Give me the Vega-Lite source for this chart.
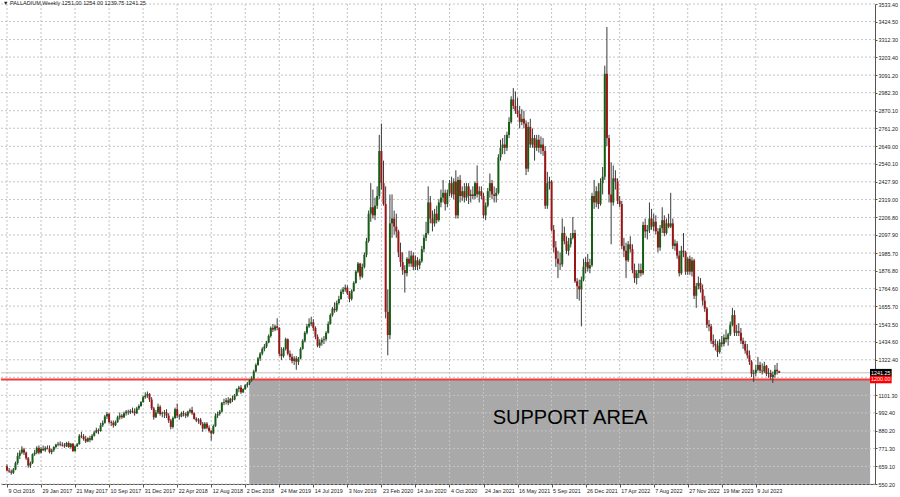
{
  "$schema": "https://vega.github.io/schema/vega-lite/v6.json",
  "width": 874,
  "height": 480,
  "autosize": "none",
  "padding": {"left": 1, "top": 4, "right": 25, "bottom": 13},
  "background": "white",
  "config": {
    "view": {"stroke": null},
    "font": "Liberation Sans",
    "axis": {"labelFont": "Liberation Sans", "labelFontSize": 5.4, "labelColor": "#222222", "domainColor": "#555555", "tickColor": "#555555", "labelOverlap": false, "labelFlush": false, "labelBound": false}
  },
  "title": {
    "text": "▼ PALLADIUM,Weekly  1251.00 1254.00 1239.75 1241.25",
    "anchor": "start",
    "frame": "group",
    "orient": "top",
    "offset": -4,
    "fontSize": 5.5,
    "fontWeight": "normal",
    "font": "Liberation Sans",
    "color": "#222222",
    "dx": 2
  },
  "datasets": {
    "ohlc": [
      {"d":"2016-10-09","o":660,"h":672,"l":628,"c":634},
      {"d":"2016-10-16","o":634,"h":650,"l":620,"c":628},
      {"d":"2016-10-23","o":628,"h":640,"l":608,"c":620},
      {"d":"2016-10-30","o":620,"h":650,"l":612,"c":640},
      {"d":"2016-11-06","o":640,"h":690,"l":636,"c":680},
      {"d":"2016-11-13","o":680,"h":745,"l":670,"c":725},
      {"d":"2016-11-20","o":725,"h":760,"l":705,"c":745},
      {"d":"2016-11-27","o":745,"h":785,"l":735,"c":765},
      {"d":"2016-12-04","o":765,"h":775,"l":730,"c":745},
      {"d":"2016-12-11","o":745,"h":752,"l":700,"c":710},
      {"d":"2016-12-18","o":710,"h":718,"l":652,"c":665},
      {"d":"2016-12-25","o":665,"h":690,"l":650,"c":680},
      {"d":"2017-01-01","o":680,"h":740,"l":675,"c":735},
      {"d":"2017-01-08","o":735,"h":762,"l":725,"c":745},
      {"d":"2017-01-15","o":745,"h":785,"l":735,"c":775},
      {"d":"2017-01-22","o":775,"h":790,"l":735,"c":745},
      {"d":"2017-01-29","o":745,"h":780,"l":740,"c":768},
      {"d":"2017-02-05","o":768,"h":790,"l":755,"c":760},
      {"d":"2017-02-12","o":760,"h":785,"l":750,"c":775},
      {"d":"2017-02-19","o":775,"h":790,"l":765,"c":770},
      {"d":"2017-02-26","o":770,"h":790,"l":740,"c":748},
      {"d":"2017-03-05","o":748,"h":770,"l":735,"c":760},
      {"d":"2017-03-12","o":760,"h":785,"l":750,"c":780},
      {"d":"2017-03-19","o":780,"h":800,"l":770,"c":795},
      {"d":"2017-03-26","o":795,"h":812,"l":785,"c":800},
      {"d":"2017-04-02","o":800,"h":815,"l":785,"c":795},
      {"d":"2017-04-09","o":795,"h":810,"l":782,"c":790},
      {"d":"2017-04-16","o":790,"h":805,"l":775,"c":785},
      {"d":"2017-04-23","o":785,"h":812,"l":780,"c":805},
      {"d":"2017-04-30","o":805,"h":815,"l":775,"c":780},
      {"d":"2017-05-07","o":780,"h":805,"l":770,"c":800},
      {"d":"2017-05-14","o":800,"h":805,"l":750,"c":755},
      {"d":"2017-05-21","o":755,"h":790,"l":750,"c":785},
      {"d":"2017-05-28","o":785,"h":805,"l":780,"c":798},
      {"d":"2017-06-04","o":798,"h":860,"l":795,"c":850},
      {"d":"2017-06-11","o":850,"h":875,"l":835,"c":845},
      {"d":"2017-06-18","o":845,"h":860,"l":820,"c":830},
      {"d":"2017-06-25","o":830,"h":850,"l":805,"c":815},
      {"d":"2017-07-02","o":815,"h":840,"l":810,"c":835},
      {"d":"2017-07-09","o":835,"h":850,"l":810,"c":825},
      {"d":"2017-07-16","o":825,"h":860,"l":820,"c":850},
      {"d":"2017-07-23","o":850,"h":880,"l":845,"c":870},
      {"d":"2017-07-30","o":870,"h":900,"l":865,"c":885},
      {"d":"2017-08-06","o":885,"h":895,"l":860,"c":880},
      {"d":"2017-08-13","o":880,"h":930,"l":875,"c":915},
      {"d":"2017-08-20","o":915,"h":945,"l":905,"c":930},
      {"d":"2017-08-27","o":930,"h":980,"l":925,"c":970},
      {"d":"2017-09-03","o":970,"h":998,"l":955,"c":985},
      {"d":"2017-09-10","o":985,"h":992,"l":925,"c":935},
      {"d":"2017-09-17","o":935,"h":945,"l":910,"c":930},
      {"d":"2017-09-24","o":930,"h":945,"l":900,"c":915},
      {"d":"2017-10-01","o":915,"h":945,"l":910,"c":935},
      {"d":"2017-10-08","o":935,"h":975,"l":930,"c":965},
      {"d":"2017-10-15","o":965,"h":995,"l":950,"c":975},
      {"d":"2017-10-22","o":975,"h":985,"l":955,"c":965},
      {"d":"2017-10-29","o":965,"h":1000,"l":960,"c":990},
      {"d":"2017-11-05","o":990,"h":1010,"l":975,"c":1000},
      {"d":"2017-11-12","o":1000,"h":1012,"l":980,"c":995},
      {"d":"2017-11-19","o":995,"h":1015,"l":985,"c":1005},
      {"d":"2017-11-26","o":1005,"h":1025,"l":990,"c":1000},
      {"d":"2017-12-03","o":1000,"h":1020,"l":975,"c":990},
      {"d":"2017-12-10","o":990,"h":1030,"l":985,"c":1020},
      {"d":"2017-12-17","o":1020,"h":1045,"l":1010,"c":1035},
      {"d":"2017-12-24","o":1035,"h":1065,"l":1030,"c":1060},
      {"d":"2017-12-31","o":1060,"h":1100,"l":1055,"c":1090},
      {"d":"2018-01-07","o":1090,"h":1120,"l":1080,"c":1100},
      {"d":"2018-01-14","o":1100,"h":1125,"l":1085,"c":1110},
      {"d":"2018-01-21","o":1110,"h":1115,"l":1060,"c":1075},
      {"d":"2018-01-28","o":1075,"h":1090,"l":1010,"c":1020},
      {"d":"2018-02-04","o":1020,"h":1030,"l":950,"c":965},
      {"d":"2018-02-11","o":965,"h":1010,"l":960,"c":995},
      {"d":"2018-02-18","o":995,"h":1050,"l":985,"c":1030},
      {"d":"2018-02-25","o":1030,"h":1040,"l":975,"c":985},
      {"d":"2018-03-04","o":985,"h":1000,"l":965,"c":990},
      {"d":"2018-03-11","o":990,"h":1010,"l":960,"c":995},
      {"d":"2018-03-18","o":995,"h":1015,"l":960,"c":975},
      {"d":"2018-03-25","o":975,"h":990,"l":930,"c":945},
      {"d":"2018-04-01","o":945,"h":955,"l":890,"c":905},
      {"d":"2018-04-08","o":905,"h":970,"l":895,"c":960},
      {"d":"2018-04-15","o":960,"h":1025,"l":955,"c":1015},
      {"d":"2018-04-22","o":1015,"h":1050,"l":960,"c":975},
      {"d":"2018-04-29","o":975,"h":985,"l":950,"c":970},
      {"d":"2018-05-06","o":970,"h":1000,"l":965,"c":990},
      {"d":"2018-05-13","o":990,"h":1005,"l":970,"c":985},
      {"d":"2018-05-20","o":985,"h":995,"l":960,"c":975},
      {"d":"2018-05-27","o":975,"h":1005,"l":965,"c":1000},
      {"d":"2018-06-03","o":1000,"h":1020,"l":990,"c":1010},
      {"d":"2018-06-10","o":1010,"h":1030,"l":980,"c":990},
      {"d":"2018-06-17","o":990,"h":995,"l":950,"c":955},
      {"d":"2018-06-24","o":955,"h":965,"l":935,"c":945},
      {"d":"2018-07-01","o":945,"h":960,"l":925,"c":950},
      {"d":"2018-07-08","o":950,"h":960,"l":915,"c":925},
      {"d":"2018-07-15","o":925,"h":935,"l":875,"c":895},
      {"d":"2018-07-22","o":895,"h":935,"l":890,"c":925},
      {"d":"2018-07-29","o":925,"h":935,"l":890,"c":900},
      {"d":"2018-08-05","o":900,"h":915,"l":870,"c":880},
      {"d":"2018-08-12","o":880,"h":885,"l":820,"c":865},
      {"d":"2018-08-19","o":865,"h":920,"l":860,"c":910},
      {"d":"2018-08-26","o":910,"h":990,"l":905,"c":975},
      {"d":"2018-09-02","o":975,"h":1000,"l":960,"c":985},
      {"d":"2018-09-09","o":985,"h":1010,"l":975,"c":1000},
      {"d":"2018-09-16","o":1000,"h":1060,"l":995,"c":1055},
      {"d":"2018-09-23","o":1055,"h":1080,"l":1040,"c":1060},
      {"d":"2018-09-30","o":1060,"h":1085,"l":1045,"c":1070},
      {"d":"2018-10-07","o":1070,"h":1090,"l":1040,"c":1055},
      {"d":"2018-10-14","o":1055,"h":1085,"l":1050,"c":1080},
      {"d":"2018-10-21","o":1080,"h":1100,"l":1060,"c":1075},
      {"d":"2018-10-28","o":1075,"h":1110,"l":1070,"c":1100},
      {"d":"2018-11-04","o":1100,"h":1145,"l":1095,"c":1140},
      {"d":"2018-11-11","o":1140,"h":1160,"l":1120,"c":1150},
      {"d":"2018-11-18","o":1150,"h":1165,"l":1110,"c":1120},
      {"d":"2018-11-25","o":1120,"h":1145,"l":1115,"c":1140},
      {"d":"2018-12-02","o":1140,"h":1170,"l":1135,"c":1165},
      {"d":"2018-12-09","o":1165,"h":1185,"l":1150,"c":1175},
      {"d":"2018-12-16","o":1175,"h":1200,"l":1165,"c":1195},
      {"d":"2018-12-23","o":1195,"h":1220,"l":1185,"c":1205},
      {"d":"2018-12-30","o":1205,"h":1260,"l":1200,"c":1250},
      {"d":"2019-01-06","o":1250,"h":1300,"l":1245,"c":1290},
      {"d":"2019-01-13","o":1290,"h":1340,"l":1285,"c":1330},
      {"d":"2019-01-20","o":1330,"h":1370,"l":1315,"c":1360},
      {"d":"2019-01-27","o":1360,"h":1400,"l":1350,"c":1390},
      {"d":"2019-02-03","o":1390,"h":1420,"l":1375,"c":1405},
      {"d":"2019-02-10","o":1405,"h":1440,"l":1395,"c":1430},
      {"d":"2019-02-17","o":1430,"h":1480,"l":1425,"c":1470},
      {"d":"2019-02-24","o":1470,"h":1530,"l":1460,"c":1520},
      {"d":"2019-03-03","o":1520,"h":1545,"l":1495,"c":1510},
      {"d":"2019-03-10","o":1510,"h":1540,"l":1500,"c":1530},
      {"d":"2019-03-17","o":1530,"h":1580,"l":1505,"c":1520},
      {"d":"2019-03-24","o":1520,"h":1525,"l":1345,"c":1360},
      {"d":"2019-03-31","o":1360,"h":1400,"l":1320,"c":1345},
      {"d":"2019-04-07","o":1345,"h":1400,"l":1335,"c":1390},
      {"d":"2019-04-14","o":1390,"h":1460,"l":1380,"c":1450},
      {"d":"2019-04-21","o":1450,"h":1455,"l":1350,"c":1360},
      {"d":"2019-04-28","o":1360,"h":1380,"l":1320,"c":1340},
      {"d":"2019-05-05","o":1340,"h":1360,"l":1300,"c":1315},
      {"d":"2019-05-12","o":1315,"h":1345,"l":1290,"c":1330},
      {"d":"2019-05-19","o":1330,"h":1345,"l":1260,"c":1310},
      {"d":"2019-05-26","o":1310,"h":1340,"l":1290,"c":1330},
      {"d":"2019-06-02","o":1330,"h":1400,"l":1325,"c":1390},
      {"d":"2019-06-09","o":1390,"h":1450,"l":1385,"c":1440},
      {"d":"2019-06-16","o":1440,"h":1500,"l":1430,"c":1490},
      {"d":"2019-06-23","o":1490,"h":1545,"l":1480,"c":1530},
      {"d":"2019-06-30","o":1530,"h":1580,"l":1520,"c":1545},
      {"d":"2019-07-07","o":1545,"h":1590,"l":1530,"c":1555},
      {"d":"2019-07-14","o":1555,"h":1575,"l":1500,"c":1520},
      {"d":"2019-07-21","o":1520,"h":1530,"l":1450,"c":1465},
      {"d":"2019-07-28","o":1465,"h":1480,"l":1400,"c":1410},
      {"d":"2019-08-04","o":1410,"h":1450,"l":1395,"c":1430},
      {"d":"2019-08-11","o":1430,"h":1460,"l":1410,"c":1445},
      {"d":"2019-08-18","o":1445,"h":1470,"l":1420,"c":1450},
      {"d":"2019-08-25","o":1450,"h":1500,"l":1440,"c":1490},
      {"d":"2019-09-01","o":1490,"h":1560,"l":1485,"c":1545},
      {"d":"2019-09-08","o":1545,"h":1610,"l":1540,"c":1600},
      {"d":"2019-09-15","o":1600,"h":1650,"l":1590,"c":1640},
      {"d":"2019-09-22","o":1640,"h":1680,"l":1615,"c":1630},
      {"d":"2019-09-29","o":1630,"h":1690,"l":1620,"c":1675},
      {"d":"2019-10-06","o":1675,"h":1720,"l":1665,"c":1700},
      {"d":"2019-10-13","o":1700,"h":1760,"l":1695,"c":1745},
      {"d":"2019-10-20","o":1745,"h":1775,"l":1730,"c":1760},
      {"d":"2019-10-27","o":1760,"h":1790,"l":1745,"c":1770},
      {"d":"2019-11-03","o":1770,"h":1785,"l":1725,"c":1735},
      {"d":"2019-11-10","o":1735,"h":1750,"l":1680,"c":1700},
      {"d":"2019-11-17","o":1700,"h":1760,"l":1690,"c":1750},
      {"d":"2019-11-24","o":1750,"h":1810,"l":1745,"c":1800},
      {"d":"2019-12-01","o":1800,"h":1880,"l":1795,"c":1870},
      {"d":"2019-12-08","o":1870,"h":1930,"l":1860,"c":1920},
      {"d":"2019-12-15","o":1920,"h":1925,"l":1820,"c":1840},
      {"d":"2019-12-22","o":1840,"h":1920,"l":1830,"c":1900},
      {"d":"2019-12-29","o":1900,"h":1990,"l":1890,"c":1975},
      {"d":"2020-01-05","o":1975,"h":2080,"l":1960,"c":2060},
      {"d":"2020-01-12","o":2060,"h":2250,"l":2050,"c":2230},
      {"d":"2020-01-19","o":2230,"h":2420,"l":2180,"c":2270},
      {"d":"2020-01-26","o":2270,"h":2380,"l":2200,"c":2220},
      {"d":"2020-02-02","o":2220,"h":2330,"l":2190,"c":2280},
      {"d":"2020-02-09","o":2280,"h":2400,"l":2260,"c":2340},
      {"d":"2020-02-16","o":2340,"h":2720,"l":2320,"c":2620},
      {"d":"2020-02-23","o":2620,"h":2790,"l":2380,"c":2420},
      {"d":"2020-03-01","o":2420,"h":2560,"l":2280,"c":2290},
      {"d":"2020-03-08","o":2290,"h":2400,"l":1580,"c":1620},
      {"d":"2020-03-15","o":1620,"h":1760,"l":1350,"c":1476},
      {"d":"2020-03-22","o":1476,"h":2350,"l":1450,"c":2170},
      {"d":"2020-03-29","o":2170,"h":2350,"l":2080,"c":2200},
      {"d":"2020-04-05","o":2200,"h":2250,"l":2100,"c":2150},
      {"d":"2020-04-12","o":2150,"h":2230,"l":2080,"c":2120},
      {"d":"2020-04-19","o":2120,"h":2130,"l":1960,"c":1990},
      {"d":"2020-04-26","o":1990,"h":2050,"l":1900,"c":1930},
      {"d":"2020-05-03","o":1930,"h":1990,"l":1850,"c":1880},
      {"d":"2020-05-10","o":1880,"h":1910,"l":1740,"c":1860},
      {"d":"2020-05-17","o":1860,"h":1960,"l":1840,"c":1950},
      {"d":"2020-05-24","o":1950,"h":2000,"l":1900,"c":1920},
      {"d":"2020-05-31","o":1920,"h":2000,"l":1900,"c":1970},
      {"d":"2020-06-07","o":1970,"h":1990,"l":1880,"c":1900},
      {"d":"2020-06-14","o":1900,"h":1970,"l":1880,"c":1940},
      {"d":"2020-06-21","o":1940,"h":1960,"l":1880,"c":1910},
      {"d":"2020-06-28","o":1910,"h":1950,"l":1885,"c":1935},
      {"d":"2020-07-05","o":1935,"h":2030,"l":1925,"c":2010},
      {"d":"2020-07-12","o":2010,"h":2100,"l":1990,"c":2080},
      {"d":"2020-07-19","o":2080,"h":2180,"l":2060,"c":2110},
      {"d":"2020-07-26","o":2110,"h":2400,"l":2100,"c":2300},
      {"d":"2020-08-02","o":2300,"h":2340,"l":2170,"c":2200},
      {"d":"2020-08-09","o":2200,"h":2250,"l":2120,"c":2170},
      {"d":"2020-08-16","o":2170,"h":2260,"l":2150,"c":2230},
      {"d":"2020-08-23","o":2230,"h":2280,"l":2170,"c":2190},
      {"d":"2020-08-30","o":2190,"h":2320,"l":2180,"c":2300},
      {"d":"2020-09-06","o":2300,"h":2380,"l":2270,"c":2330},
      {"d":"2020-09-13","o":2330,"h":2440,"l":2300,"c":2360},
      {"d":"2020-09-20","o":2360,"h":2380,"l":2250,"c":2290},
      {"d":"2020-09-27","o":2290,"h":2380,"l":2270,"c":2360},
      {"d":"2020-10-04","o":2360,"h":2440,"l":2340,"c":2420},
      {"d":"2020-10-11","o":2420,"h":2460,"l":2330,"c":2350},
      {"d":"2020-10-18","o":2350,"h":2450,"l":2320,"c":2430},
      {"d":"2020-10-25","o":2430,"h":2500,"l":2200,"c":2220},
      {"d":"2020-11-01","o":2220,"h":2460,"l":2200,"c":2440},
      {"d":"2020-11-08","o":2440,"h":2470,"l":2300,"c":2340},
      {"d":"2020-11-15","o":2340,"h":2400,"l":2310,"c":2370},
      {"d":"2020-11-22","o":2370,"h":2420,"l":2300,"c":2330},
      {"d":"2020-11-29","o":2330,"h":2420,"l":2310,"c":2400},
      {"d":"2020-12-06","o":2400,"h":2420,"l":2290,"c":2340},
      {"d":"2020-12-13","o":2340,"h":2380,"l":2300,"c":2350},
      {"d":"2020-12-20","o":2350,"h":2400,"l":2320,"c":2340},
      {"d":"2020-12-27","o":2340,"h":2430,"l":2320,"c":2420},
      {"d":"2021-01-03","o":2420,"h":2530,"l":2330,"c":2350},
      {"d":"2021-01-10","o":2350,"h":2400,"l":2300,"c":2370},
      {"d":"2021-01-17","o":2370,"h":2400,"l":2320,"c":2340},
      {"d":"2021-01-24","o":2340,"h":2360,"l":2200,"c":2220},
      {"d":"2021-01-31","o":2220,"h":2300,"l":2190,"c":2280},
      {"d":"2021-02-07","o":2280,"h":2390,"l":2270,"c":2370},
      {"d":"2021-02-14","o":2370,"h":2480,"l":2330,"c":2420},
      {"d":"2021-02-21","o":2420,"h":2440,"l":2320,"c":2350},
      {"d":"2021-02-28","o":2350,"h":2400,"l":2300,"c":2340},
      {"d":"2021-03-07","o":2340,"h":2390,"l":2300,"c":2360},
      {"d":"2021-03-14","o":2360,"h":2600,"l":2350,"c":2580},
      {"d":"2021-03-21","o":2580,"h":2690,"l":2560,"c":2640},
      {"d":"2021-03-28","o":2640,"h":2700,"l":2600,"c":2660},
      {"d":"2021-04-04","o":2660,"h":2720,"l":2600,"c":2640},
      {"d":"2021-04-11","o":2640,"h":2740,"l":2620,"c":2720},
      {"d":"2021-04-18","o":2720,"h":2830,"l":2700,"c":2800},
      {"d":"2021-04-25","o":2800,"h":2960,"l":2790,"c":2940},
      {"d":"2021-05-02","o":2940,"h":3011,"l":2880,"c":2900},
      {"d":"2021-05-09","o":2900,"h":2990,"l":2850,"c":2870},
      {"d":"2021-05-16","o":2870,"h":2950,"l":2830,"c":2850},
      {"d":"2021-05-23","o":2850,"h":2900,"l":2760,"c":2800},
      {"d":"2021-05-30","o":2800,"h":2880,"l":2780,"c":2820},
      {"d":"2021-06-06","o":2820,"h":2870,"l":2760,"c":2790},
      {"d":"2021-06-13","o":2790,"h":2810,"l":2470,"c":2510},
      {"d":"2021-06-20","o":2510,"h":2800,"l":2490,"c":2770},
      {"d":"2021-06-27","o":2770,"h":2820,"l":2640,"c":2660},
      {"d":"2021-07-04","o":2660,"h":2760,"l":2640,"c":2700},
      {"d":"2021-07-11","o":2700,"h":2720,"l":2560,"c":2640},
      {"d":"2021-07-18","o":2640,"h":2720,"l":2620,"c":2690},
      {"d":"2021-07-25","o":2690,"h":2720,"l":2610,"c":2640},
      {"d":"2021-08-01","o":2640,"h":2710,"l":2600,"c":2660},
      {"d":"2021-08-08","o":2660,"h":2700,"l":2590,"c":2620},
      {"d":"2021-08-15","o":2620,"h":2650,"l":2260,"c":2280},
      {"d":"2021-08-22","o":2280,"h":2490,"l":2260,"c":2420},
      {"d":"2021-08-29","o":2420,"h":2460,"l":2380,"c":2430},
      {"d":"2021-09-05","o":2430,"h":2440,"l":2120,"c":2130},
      {"d":"2021-09-12","o":2130,"h":2160,"l":1990,"c":2020},
      {"d":"2021-09-19","o":2020,"h":2060,"l":1900,"c":1950},
      {"d":"2021-09-26","o":1950,"h":2000,"l":1830,"c":1920},
      {"d":"2021-10-03","o":1920,"h":1990,"l":1880,"c":1915},
      {"d":"2021-10-10","o":1915,"h":2200,"l":1900,"c":2110},
      {"d":"2021-10-17","o":2110,"h":2150,"l":2040,"c":2060},
      {"d":"2021-10-24","o":2060,"h":2090,"l":1980,"c":2000},
      {"d":"2021-10-31","o":2000,"h":2080,"l":1970,"c":2040},
      {"d":"2021-11-07","o":2040,"h":2110,"l":2020,"c":2080},
      {"d":"2021-11-14","o":2080,"h":2210,"l":2070,"c":2110},
      {"d":"2021-11-21","o":2110,"h":2130,"l":1800,"c":1810},
      {"d":"2021-11-28","o":1810,"h":1830,"l":1700,"c":1780},
      {"d":"2021-12-05","o":1780,"h":1820,"l":1690,"c":1760},
      {"d":"2021-12-12","o":1760,"h":1840,"l":1530,"c":1820},
      {"d":"2021-12-19","o":1820,"h":1950,"l":1810,"c":1900},
      {"d":"2021-12-26","o":1900,"h":1960,"l":1860,"c":1930},
      {"d":"2022-01-02","o":1930,"h":1980,"l":1870,"c":1890},
      {"d":"2022-01-09","o":1890,"h":1950,"l":1860,"c":1910},
      {"d":"2022-01-16","o":1910,"h":2360,"l":1900,"c":2340},
      {"d":"2022-01-23","o":2340,"h":2440,"l":2260,"c":2300},
      {"d":"2022-01-30","o":2300,"h":2400,"l":2270,"c":2370},
      {"d":"2022-02-06","o":2370,"h":2420,"l":2260,"c":2290},
      {"d":"2022-02-13","o":2290,"h":2450,"l":2280,"c":2420},
      {"d":"2022-02-20","o":2420,"h":2520,"l":2350,"c":2460},
      {"d":"2022-02-27","o":2460,"h":3150,"l":2440,"c":3100},
      {"d":"2022-03-06","o":3100,"h":3390,"l":2650,"c":2700},
      {"d":"2022-03-13","o":2700,"h":2720,"l":2300,"c":2350},
      {"d":"2022-03-20","o":2350,"h":2550,"l":2040,"c":2300},
      {"d":"2022-03-27","o":2300,"h":2530,"l":2280,"c":2450},
      {"d":"2022-04-03","o":2450,"h":2500,"l":2380,"c":2430},
      {"d":"2022-04-10","o":2430,"h":2450,"l":2290,"c":2310},
      {"d":"2022-04-17","o":2310,"h":2340,"l":2270,"c":2290},
      {"d":"2022-04-24","o":2290,"h":2310,"l":2010,"c":2030},
      {"d":"2022-05-01","o":2030,"h":2080,"l":1960,"c":2000},
      {"d":"2022-05-08","o":2000,"h":2050,"l":1830,"c":1940},
      {"d":"2022-05-15","o":1940,"h":2060,"l":1930,"c":2040},
      {"d":"2022-05-22","o":2040,"h":2090,"l":1990,"c":2010},
      {"d":"2022-05-29","o":2010,"h":2040,"l":1860,"c":1880},
      {"d":"2022-06-05","o":1880,"h":1920,"l":1800,"c":1830},
      {"d":"2022-06-12","o":1830,"h":1880,"l":1790,"c":1860},
      {"d":"2022-06-19","o":1860,"h":1920,"l":1830,"c":1880},
      {"d":"2022-06-26","o":1880,"h":1920,"l":1840,"c":1860},
      {"d":"2022-07-03","o":1860,"h":2180,"l":1850,"c":2160},
      {"d":"2022-07-10","o":2160,"h":2200,"l":2080,"c":2120},
      {"d":"2022-07-17","o":2120,"h":2160,"l":2070,"c":2130},
      {"d":"2022-07-24","o":2130,"h":2300,"l":2110,"c":2200},
      {"d":"2022-07-31","o":2200,"h":2260,"l":2130,"c":2150},
      {"d":"2022-08-07","o":2150,"h":2230,"l":2120,"c":2180},
      {"d":"2022-08-14","o":2180,"h":2220,"l":2100,"c":2120},
      {"d":"2022-08-21","o":2120,"h":2140,"l":1990,"c":2020},
      {"d":"2022-08-28","o":2020,"h":2160,"l":2000,"c":2140},
      {"d":"2022-09-04","o":2140,"h":2270,"l":2110,"c":2190},
      {"d":"2022-09-11","o":2190,"h":2220,"l":2090,"c":2110},
      {"d":"2022-09-18","o":2110,"h":2200,"l":2100,"c":2170},
      {"d":"2022-09-25","o":2170,"h":2230,"l":2140,"c":2150},
      {"d":"2022-10-02","o":2150,"h":2360,"l":2140,"c":2170},
      {"d":"2022-10-09","o":2170,"h":2200,"l":2010,"c":2030},
      {"d":"2022-10-16","o":2030,"h":2070,"l":2000,"c":2045},
      {"d":"2022-10-23","o":2045,"h":2060,"l":1950,"c":1970},
      {"d":"2022-10-30","o":1970,"h":2000,"l":1840,"c":1860},
      {"d":"2022-11-06","o":1860,"h":2030,"l":1850,"c":2000},
      {"d":"2022-11-13","o":2000,"h":2110,"l":1960,"c":1990},
      {"d":"2022-11-20","o":1990,"h":2000,"l":1850,"c":1870},
      {"d":"2022-11-27","o":1870,"h":1960,"l":1850,"c":1950},
      {"d":"2022-12-04","o":1950,"h":1970,"l":1850,"c":1870},
      {"d":"2022-12-11","o":1870,"h":1960,"l":1840,"c":1940},
      {"d":"2022-12-18","o":1940,"h":1950,"l":1700,"c":1720},
      {"d":"2022-12-25","o":1720,"h":1800,"l":1645,"c":1780},
      {"d":"2023-01-01","o":1780,"h":1840,"l":1760,"c":1800},
      {"d":"2023-01-08","o":1800,"h":1830,"l":1740,"c":1760},
      {"d":"2023-01-15","o":1760,"h":1790,"l":1660,"c":1690},
      {"d":"2023-01-22","o":1690,"h":1720,"l":1620,"c":1640},
      {"d":"2023-01-29","o":1640,"h":1650,"l":1520,"c":1540},
      {"d":"2023-02-05","o":1540,"h":1570,"l":1500,"c":1530},
      {"d":"2023-02-12","o":1530,"h":1545,"l":1420,"c":1440},
      {"d":"2023-02-19","o":1440,"h":1480,"l":1400,"c":1420},
      {"d":"2023-02-26","o":1420,"h":1450,"l":1380,"c":1410},
      {"d":"2023-03-05","o":1410,"h":1440,"l":1340,"c":1370},
      {"d":"2023-03-12","o":1370,"h":1450,"l":1360,"c":1430},
      {"d":"2023-03-19","o":1430,"h":1470,"l":1400,"c":1420},
      {"d":"2023-03-26","o":1420,"h":1480,"l":1405,"c":1460},
      {"d":"2023-04-02","o":1460,"h":1510,"l":1430,"c":1450},
      {"d":"2023-04-09","o":1450,"h":1490,"l":1410,"c":1480},
      {"d":"2023-04-16","o":1480,"h":1560,"l":1470,"c":1540},
      {"d":"2023-04-23","o":1540,"h":1645,"l":1530,"c":1600},
      {"d":"2023-04-30","o":1600,"h":1630,"l":1470,"c":1490},
      {"d":"2023-05-07","o":1490,"h":1540,"l":1470,"c":1500},
      {"d":"2023-05-14","o":1500,"h":1550,"l":1470,"c":1490},
      {"d":"2023-05-21","o":1490,"h":1520,"l":1420,"c":1440},
      {"d":"2023-05-28","o":1440,"h":1460,"l":1390,"c":1420},
      {"d":"2023-06-04","o":1420,"h":1440,"l":1360,"c":1380},
      {"d":"2023-06-11","o":1380,"h":1420,"l":1330,"c":1350},
      {"d":"2023-06-18","o":1350,"h":1380,"l":1290,"c":1310},
      {"d":"2023-06-25","o":1310,"h":1320,"l":1215,"c":1235},
      {"d":"2023-07-02","o":1235,"h":1260,"l":1185,"c":1240},
      {"d":"2023-07-09","o":1240,"h":1290,"l":1220,"c":1260},
      {"d":"2023-07-16","o":1260,"h":1340,"l":1250,"c":1290},
      {"d":"2023-07-23","o":1290,"h":1310,"l":1240,"c":1255},
      {"d":"2023-07-30","o":1255,"h":1300,"l":1230,"c":1250},
      {"d":"2023-08-06","o":1250,"h":1310,"l":1240,"c":1285},
      {"d":"2023-08-13","o":1285,"h":1290,"l":1220,"c":1235},
      {"d":"2023-08-20","o":1235,"h":1270,"l":1210,"c":1240},
      {"d":"2023-08-27","o":1240,"h":1260,"l":1200,"c":1215},
      {"d":"2023-09-03","o":1215,"h":1250,"l":1178,"c":1230},
      {"d":"2023-09-10","o":1230,"h":1290,"l":1210,"c":1260},
      {"d":"2023-09-17","o":1260,"h":1302,"l":1230,"c":1251},
      {"d":"2023-09-24","o":1251,"h":1254,"l":1239.75,"c":1241.25}
    ],
    "ygrid": [
      {"v":550.2},{"v":659.1},{"v":771.3},{"v":880.2},{"v":992.4},{"v":1101.3},{"v":1213.5},{"v":1322.4},{"v":1434.6},{"v":1543.5},{"v":1655.7},{"v":1764.6},{"v":1876.8},{"v":1985.7},{"v":2097.9},{"v":2206.8},{"v":2319.0},{"v":2427.9},{"v":2540.1},{"v":2649.0},{"v":2761.2},{"v":2870.1},{"v":2982.3},{"v":3091.2},{"v":3203.4},{"v":3312.3},{"v":3424.5},{"v":3533.4}
    ],
    "xgrid": [
      {"d":"2016-10-09"},{"d":"2017-01-29"},{"d":"2017-05-21"},{"d":"2017-09-10"},{"d":"2017-12-31"},{"d":"2018-04-22"},{"d":"2018-08-12"},{"d":"2018-12-02"},{"d":"2019-03-24"},{"d":"2019-07-14"},{"d":"2019-11-03"},{"d":"2020-02-23"},{"d":"2020-06-14"},{"d":"2020-10-04"},{"d":"2021-01-24"},{"d":"2021-05-16"},{"d":"2021-09-05"},{"d":"2021-12-26"},{"d":"2022-04-17"},{"d":"2022-08-07"},{"d":"2022-11-27"},{"d":"2023-03-19"},{"d":"2023-07-09"}
    ]
  },
  "layer": [
    {
      "data": {"values": [{"start": "2018-12-15", "end": "2024-07-19", "lo": 550.2, "hi": 1200}]},
      "mark": {"type": "rect", "color": "#a9a9a9", "clip": true},
      "encoding": {
        "x": {
          "field": "start", "type": "temporal", "title": null,
          "scale": {"type": "utc", "domain": [{"year": 2016, "month": 10, "date": 5, "hours": 18, "utc": true}, {"year": 2024, "month": 7, "date": 18, "hours": 18, "utc": true}]},
          "axis": {
            "values": [
              {"year":2016,"month":10,"date":9,"utc":true},{"year":2017,"month":1,"date":29,"utc":true},{"year":2017,"month":5,"date":21,"utc":true},{"year":2017,"month":9,"date":10,"utc":true},{"year":2017,"month":12,"date":31,"utc":true},{"year":2018,"month":4,"date":22,"utc":true},{"year":2018,"month":8,"date":12,"utc":true},{"year":2018,"month":12,"date":2,"utc":true},{"year":2019,"month":3,"date":24,"utc":true},{"year":2019,"month":7,"date":14,"utc":true},{"year":2019,"month":11,"date":3,"utc":true},{"year":2020,"month":2,"date":23,"utc":true},{"year":2020,"month":6,"date":14,"utc":true},{"year":2020,"month":10,"date":4,"utc":true},{"year":2021,"month":1,"date":24,"utc":true},{"year":2021,"month":5,"date":16,"utc":true},{"year":2021,"month":9,"date":5,"utc":true},{"year":2021,"month":12,"date":26,"utc":true},{"year":2022,"month":4,"date":17,"utc":true},{"year":2022,"month":8,"date":7,"utc":true},{"year":2022,"month":11,"date":27,"utc":true},{"year":2023,"month":3,"date":19,"utc":true},{"year":2023,"month":7,"date":9,"utc":true}
            ],
            "tickCount": 100,
            "format": "%-d %b %Y",
            "labelAlign": "left",
            "labelPadding": 1,
            "labelOffset": 1,
            "tickSize": 3,
            "grid": false,
            "title": null,
            "labelOverlap": false,
            "labelFlush": false,
            "labelBound": false
          }
        },
        "x2": {"field": "end"},
        "y": {
          "field": "lo", "type": "quantitative", "title": null,
          "scale": {"domain": [550.2, 3533.4], "nice": false, "zero": false},
          "axis": {
            "orient": "right",
            "values": [550.2, 659.1, 771.3, 880.2, 992.4, 1101.3, 1322.4, 1434.6, 1543.5, 1655.7, 1764.6, 1876.8, 1985.7, 2097.9, 2206.8, 2319.0, 2427.9, 2540.1, 2649.0, 2761.2, 2870.1, 2982.3, 3091.2, 3203.4, 3312.3, 3424.5, 3533.4],
            "tickCount": 100,
            "format": ".2f",
            "tickSize": 2,
            "labelPadding": 1,
            "grid": false,
            "title": null,
            "labelOverlap": false,
            "labelFlush": false,
            "labelBound": false
          }
        },
        "y2": {"field": "hi"}
      }
    },
    {
      "data": {"name": "ygrid"},
      "mark": {"type": "rule", "color": "#c4c4c4", "strokeDash": [2, 2], "strokeWidth": 1},
      "encoding": {"y": {"field": "v", "type": "quantitative", "title": null}}
    },
    {
      "data": {"name": "xgrid"},
      "mark": {"type": "rule", "color": "#c4c4c4", "strokeDash": [2, 2], "strokeWidth": 1},
      "encoding": {"x": {"field": "d", "type": "temporal", "title": null}}
    },
    {
      "data": {"values": [{}]},
      "mark": {"type": "rule", "color": "#c0c0c0", "strokeWidth": 1},
      "encoding": {"y": {"datum": 1241.25, "type": "quantitative"}}
    },
    {
      "data": {"values": [{}]},
      "mark": {"type": "rule", "color": "#f03c3c", "strokeWidth": 2},
      "encoding": {"y": {"datum": 1200, "type": "quantitative"}}
    },
    {
      "data": {"name": "ohlc"},
      "mark": {"type": "rule", "color": "#3a3a3a", "strokeWidth": 1},
      "encoding": {
        "x": {"field": "d", "type": "temporal", "title": null},
        "y": {"field": "l", "type": "quantitative", "title": null},
        "y2": {"field": "h"}
      }
    },
    {
      "data": {"name": "ohlc"},
      "mark": {"type": "bar", "width": 2},
      "encoding": {
        "x": {"field": "d", "type": "temporal", "title": null},
        "y": {"field": "o", "type": "quantitative", "title": null},
        "y2": {"field": "c"},
        "color": {"condition": {"test": "datum.c >= datum.o", "value": "#145f14"}, "value": "#9a1515"}
      }
    },
    {
      "data": {"values": [{}]},
      "mark": {"type": "text", "text": "SUPPORT AREA", "fontSize": 20, "font": "Liberation Sans", "color": "#000000", "align": "center", "baseline": "middle"},
      "encoding": {
        "x": {"datum": {"year": 2021, "month": 11, "date": 5, "utc": true}, "type": "temporal"},
        "y": {"datum": 958, "type": "quantitative"}
      }
    },
    {
      "data": {"values": [{}]},
      "mark": {"type": "rect", "color": "#000000", "clip": false},
      "encoding": {
        "x": {"datum": {"year": 2024, "month": 7, "date": 18, "hours": 18, "utc": true}, "type": "temporal"},
        "x2": {"datum": {"year": 2024, "month": 9, "date": 28, "utc": true}},
        "y": {"datum": 1217, "type": "quantitative"},
        "y2": {"datum": 1265.5}
      }
    },
    {
      "data": {"values": [{}]},
      "mark": {"type": "rect", "color": "#ff0000", "clip": false},
      "encoding": {
        "x": {"datum": {"year": 2024, "month": 7, "date": 18, "hours": 18, "utc": true}, "type": "temporal"},
        "x2": {"datum": {"year": 2024, "month": 9, "date": 28, "utc": true}},
        "y": {"datum": 1176, "type": "quantitative"},
        "y2": {"datum": 1224}
      }
    },
    {
      "data": {"values": [{}]},
      "mark": {"type": "text", "text": "1241.25", "fontSize": 5.4, "font": "Liberation Sans", "color": "#ffffff", "align": "center", "baseline": "middle", "clip": false},
      "encoding": {
        "x": {"datum": {"year": 2024, "month": 8, "date": 23, "utc": true}, "type": "temporal"},
        "y": {"datum": 1241.25, "type": "quantitative"}
      }
    },
    {
      "data": {"values": [{}]},
      "mark": {"type": "text", "text": "1200.00", "fontSize": 5.4, "font": "Liberation Sans", "color": "#ffffff", "align": "center", "baseline": "middle", "clip": false},
      "encoding": {
        "x": {"datum": {"year": 2024, "month": 8, "date": 23, "utc": true}, "type": "temporal"},
        "y": {"datum": 1200, "type": "quantitative"}
      }
    }
  ]
}
